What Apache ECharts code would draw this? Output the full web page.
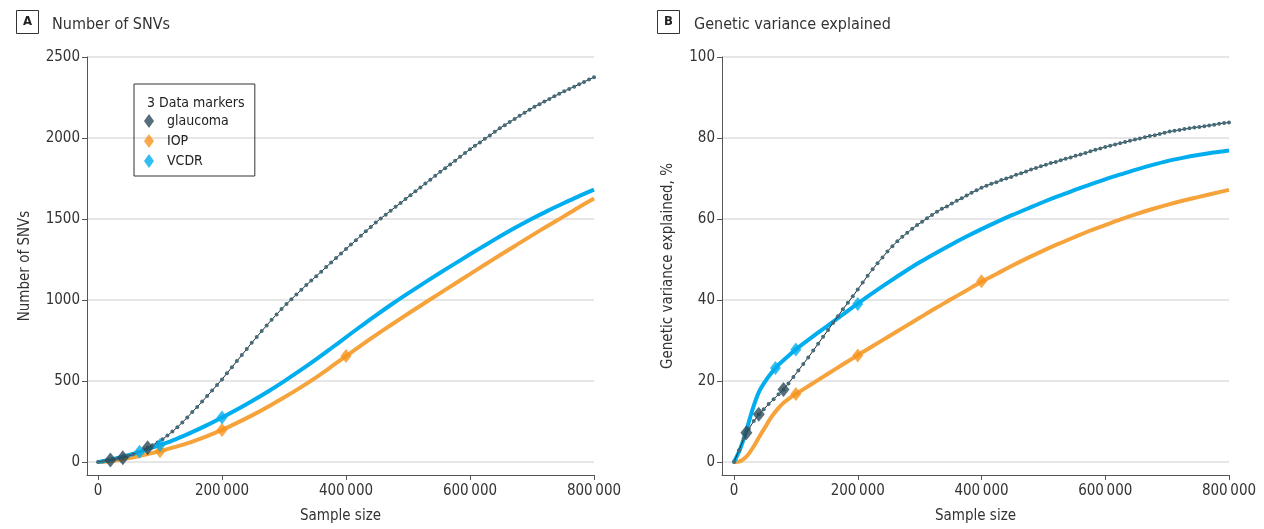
<!DOCTYPE html>
<html>
<head>
<meta charset="utf-8">
<title>SNVs and genetic variance by sample size</title>
<script src="https://cdn.jsdelivr.net/npm/echarts@6/dist/echarts.min.js"></script>
<style>
  html, body { margin: 0; padding: 0; background: #fff; }
  #chart { width: 1264px; height: 529px; }
</style>
</head>
<body>
<div id="chart"></div>
<script>
// sample size grid of the dotted glaucoma curves (one dot every 8000)
const STEP = 8000

// panel A: number of SNVs
const snvGlaucoma = [0, 4, 9, 15, 21, 27, 37, 48, 60, 73, 88, 104, 121, 140, 164, 188, 215, 244, 275, 308, 340,
  373, 407, 441, 475, 510, 548, 585, 623, 660, 698, 736, 772, 808, 843, 878, 911, 944, 975, 1005, 1034,
  1063, 1092, 1120, 1147, 1175, 1203, 1231, 1259, 1287, 1315, 1342, 1369, 1397, 1424, 1451, 1478, 1503, 1527, 1551, 1575,
  1599, 1623, 1647, 1671, 1695, 1719, 1743, 1767, 1791, 1814, 1837, 1860, 1884, 1907, 1930, 1952, 1973, 1995, 2016, 2038,
  2060, 2079, 2099, 2118, 2137, 2156, 2175, 2193, 2209, 2225, 2241, 2257, 2273, 2289, 2303, 2317, 2332, 2346, 2361, 2375]

// panel B: genetic variance explained, %
const gveGlaucoma = [0, 2.9, 5.8, 8.2, 10.1, 11.7, 13.0, 14.3, 15.5, 16.7, 17.9, 19.4, 21.0, 22.6, 24.2, 25.8, 27.5, 29.2, 30.9, 32.6, 34.3,
  36.0, 37.7, 39.3, 40.9, 42.6, 44.3, 46.0, 47.6, 49.1, 50.5, 52.0, 53.3, 54.5, 55.6, 56.6, 57.6, 58.5, 59.3, 60.2, 61.0,
  61.8, 62.5, 63.1, 63.8, 64.5, 65.1, 65.8, 66.5, 67.1, 67.7, 68.2, 68.7, 69.1, 69.6, 70.0, 70.4, 70.9, 71.3, 71.7, 72.2,
  72.6, 73.0, 73.4, 73.8, 74.1, 74.5, 74.9, 75.2, 75.6, 75.9, 76.3, 76.7, 77.1, 77.4, 77.8, 78.1, 78.4, 78.7, 79.0, 79.3,
  79.6, 79.9, 80.2, 80.5, 80.7, 81.0, 81.3, 81.6, 81.8, 82.0, 82.2, 82.4, 82.6, 82.7, 82.9, 83.1, 83.3, 83.5, 83.7, 83.8]

// IOP / VCDR curves
const curveX = [0, 10000, 20000, 30000, 40000, 50000, 60000, 70000, 80000, 90000, 100000,
  125000, 150000, 175000, 200000, 225000, 250000, 275000, 300000, 325000, 350000, 375000, 400000,
  425000, 450000, 475000, 500000, 525000, 550000, 575000, 600000, 625000, 650000, 675000, 700000,
  725000, 750000, 775000, 800000]
const snvIop = [0, 2, 6, 11, 17, 24, 32, 40, 49, 58, 67,
  93, 123, 158, 198, 243, 291, 343, 398, 456, 518, 585, 654,
  722, 788, 852, 915, 977, 1038, 1099, 1160, 1221, 1281, 1340, 1399,
  1457, 1513, 1571, 1626]
const snvVcdr = [0, 6, 14, 23, 33, 43, 54, 66, 79, 92, 105,
  140, 181, 226, 275, 326, 380, 437, 498, 562, 629, 699, 770,
  841, 910, 977, 1041, 1103, 1164, 1223, 1282, 1340, 1396, 1450, 1501,
  1550, 1596, 1640, 1681]
const gveIop = [0, 0.2, 1.3, 3.4, 6.0, 8.5, 11.0, 13.0, 14.6, 15.8, 16.8,
  19.2, 21.6, 24.0, 26.4, 28.7, 31.0, 33.3, 35.6, 37.9, 40.1, 42.3, 44.5,
  46.5, 48.5, 50.4, 52.2, 53.9, 55.5, 57.1, 58.5, 59.9, 61.2, 62.4, 63.5,
  64.5, 65.4, 66.3, 67.2]
const gveVcdr = [0, 3.2, 7.8, 13.0, 17.2, 19.8, 21.9, 23.7, 25.1, 26.5, 27.8,
  30.7, 33.5, 36.3, 39.1, 41.8, 44.4, 46.9, 49.3, 51.5, 53.6, 55.6, 57.5,
  59.3, 61.0, 62.6, 64.2, 65.7, 67.1, 68.5, 69.8, 71.0, 72.2, 73.3, 74.3,
  75.1, 75.8, 76.4, 76.9]

// data markers (diamonds)
const glaucomaMarkX = [20000, 40000, 80000]
const iopMarkX = [100000, 200000, 400000]
const vcdrMarkX = [67000, 100000, 200000]
const snvGlaucomaMk = [12, 27, 88]
const snvIopMk = [67, 198, 654]
const snvVcdrMk = [64, 105, 275]
const gveGlaucomaMk = [7.2, 11.8, 17.9]
const gveIopMk = [16.8, 26.3, 44.6]
const gveVcdrMk = [23.2, 27.8, 39.0]

const xTicks = [0, 200000, 400000, 600000, 800000]
const snvTicks = [0, 500, 1000, 1500, 2000, 2500]
const gveTicks = [0, 20, 40, 60, 80, 100]

const FONT = '"Liberation Sans Narrow", "DejaVu Sans Condensed", "Roboto", sans-serif'
const DARK = '#2c4a57'
const DOT = '#466c79'
const ORANGE = '#f7941d'
const ORANGE_LINE = '#f6a33c'
const BLUE = '#00aeef'

const pair = (xs, ys) => ys.map((y, i) => [xs[i], y])
const stepped = ys => ys.map((y, i) => [i * STEP, y])

const fmtX = v => v === 0 ? '0' : String(v).replace(/\B(?=(\d{3})+(?!\d))/g, '\u2009')

const xAxisFor = (gridIndex, min) => ({
  type: 'value',
  gridIndex,
  min,
  max: 800000,
  name: 'Sample size',
  nameLocation: 'middle',
  nameGap: 34,
  nameTextStyle: { fontFamily: FONT, fontSize: 15, color: '#333' },
  axisLine: { show: true, onZero: false, lineStyle: { color: '#555', width: 1 } },
  axisTick: { show: true, length: 5, customValues: xTicks, lineStyle: { color: '#555' } },
  axisLabel: { customValues: xTicks, formatter: fmtX, margin: 9, fontFamily: FONT, fontSize: 15, color: '#333' },
  splitLine: { show: false }
})

const yAxisFor = (gridIndex, min, max, ticks, name, nameGap) => ({
  type: 'value',
  gridIndex,
  min,
  max,
  name,
  nameLocation: 'middle',
  nameGap,
  nameTextStyle: { fontFamily: FONT, fontSize: 15, color: '#333' },
  axisLine: { show: true, onZero: false, lineStyle: { color: '#555', width: 1 } },
  axisTick: { show: true, length: 5, customValues: ticks, lineStyle: { color: '#555' } },
  axisLabel: { customValues: ticks, formatter: v => String(v), margin: 7, fontFamily: FONT, fontSize: 15, color: '#333' },
  splitLine: { show: true, lineStyle: { color: '#dedede', width: 1.5 } }
})

const dottedLine = (name, idx, data) => ({
  name,
  type: 'line',
  xAxisIndex: idx,
  yAxisIndex: idx,
  data,
  z: 3,
  symbol: 'circle',
  symbolSize: 4,
  showAllSymbol: true,
  itemStyle: { color: DOT },
  lineStyle: { color: '#1e2a2e', width: 1 }
})

const thickLine = (name, idx, data, color) => ({
  name,
  type: 'line',
  xAxisIndex: idx,
  yAxisIndex: idx,
  data,
  z: 2,
  smooth: 0.3,
  showSymbol: false,
  lineStyle: { color, width: 4 }
})

const markers = (name, idx, data, color, size) => ({
  name,
  type: 'scatter',
  xAxisIndex: idx,
  yAxisIndex: idx,
  data,
  z: 5,
  symbol: 'diamond',
  symbolSize: size,
  itemStyle: { color }
})

const chart = echarts.init(document.getElementById('chart'))

chart.setOption({
  animation: false,
  textStyle: { fontFamily: FONT },
  title: [
    { text: 'A', left: 16, top: 10, padding: [5, 7], borderColor: '#333', borderWidth: 1,
      textStyle: { fontFamily: FONT, fontSize: 13, fontWeight: 'bold', color: '#222', lineHeight: 14 } },
    { text: 'Number of SNVs', left: 47, top: 12,
      textStyle: { fontFamily: FONT, fontSize: 16, fontWeight: 'normal', color: '#333' } },
    { text: 'B', left: 657, top: 10, padding: [5, 7], borderColor: '#333', borderWidth: 1,
      textStyle: { fontFamily: FONT, fontSize: 13, fontWeight: 'bold', color: '#222', lineHeight: 14 } },
    { text: 'Genetic variance explained', left: 689, top: 12,
      textStyle: { fontFamily: FONT, fontSize: 16, fontWeight: 'normal', color: '#333' } },
    { text: '3 Data markers', left: 142, top: 91,
      textStyle: { fontFamily: FONT, fontSize: 14, fontWeight: 'normal', color: '#222' } }
  ],
  legend: {
    data: ['glaucoma', 'IOP', 'VCDR'],
    orient: 'vertical',
    left: 134,
    top: 84,
    padding: [30, 26, 8, 10],
    itemWidth: 26,
    itemHeight: 14,
    itemGap: 6,
    icon: 'path://M5,0 L10,7 L5,14 L0,7 Z',
    borderColor: '#333',
    borderWidth: 1,
    textStyle: { fontFamily: FONT, fontSize: 14, color: '#222' }
  },
  grid: [
    { left: 87, top: 57, width: 507, height: 418 },
    { left: 722, top: 57, width: 507, height: 418 }
  ],
  xAxis: [xAxisFor(0, -17742), xAxisFor(1, -19394)],
  yAxis: [
    yAxisFor(0, -80.2, 2500, snvTicks, 'Number of SNVs', 54),
    yAxisFor(1, -3.21, 100, gveTicks, 'Genetic variance explained, %', 46)
  ],
  series: [
    thickLine('IOP curve', 0, pair(curveX, snvIop), ORANGE_LINE),
    thickLine('VCDR curve', 0, pair(curveX, snvVcdr), BLUE),
    dottedLine('glaucoma curve', 0, stepped(snvGlaucoma)),
    markers('glaucoma', 0, pair(glaucomaMarkX, snvGlaucomaMk), DARK, [12, 15]),
    markers('IOP', 0, pair(iopMarkX, snvIopMk), ORANGE, [11, 14]),
    markers('VCDR', 0, pair(vcdrMarkX, snvVcdrMk), BLUE, [11, 14]),

    thickLine('IOP curve', 1, pair(curveX, gveIop), ORANGE_LINE),
    thickLine('VCDR curve', 1, pair(curveX, gveVcdr), BLUE),
    dottedLine('glaucoma curve', 1, stepped(gveGlaucoma)),
    markers('glaucoma', 1, pair(glaucomaMarkX, gveGlaucomaMk), DARK, [12, 15]),
    markers('IOP', 1, pair(iopMarkX, gveIopMk), ORANGE, [11, 14]),
    markers('VCDR', 1, pair(vcdrMarkX, gveVcdrMk), BLUE, [11, 14])
  ]
})
</script>
</body>
</html>
